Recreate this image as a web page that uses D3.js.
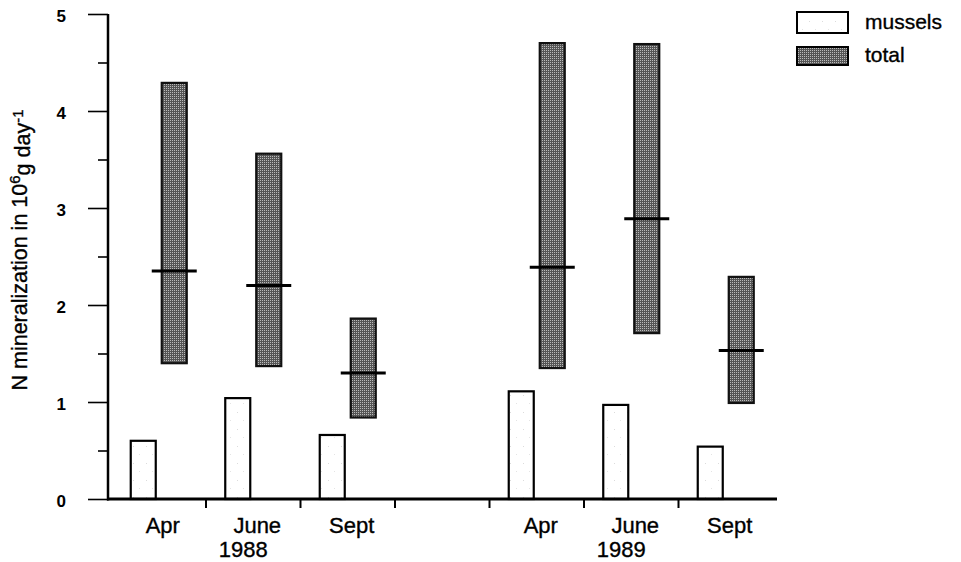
<!DOCTYPE html>
<html>
<head>
<meta charset="utf-8">
<script src="https://cdn.jsdelivr.net/npm/d3@7/dist/d3.min.js"></script>
<style>
  html, body { margin: 0; padding: 0; background: #fff; }
  svg { display: block; font-family: "Liberation Sans", Arial, Helvetica, sans-serif; }
  .lbl { stroke: #000; stroke-width: 0.35px; }
</style>
</head>
<body>
<svg id="chart" width="961" height="562"></svg>
<script>
// Sampling campaigns: three months in each of two years
const months = ["Apr", "June", "Sept"];
const years = ["1988", "1989"];

// N mineralization, 10^6 g per day
const mussels   = [0.60, 1.04, 0.66, 1.11, 0.97, 0.54];
const totalLow  = [1.40, 1.37, 0.84, 1.35, 1.71, 0.99];
const totalHigh = [4.29, 3.56, 1.86, 4.70, 4.69, 2.29];
const totalMid  = [2.35, 2.20, 1.30, 2.39, 2.89, 1.53];

const yTicks = [0, 1, 2, 3, 4, 5];
const yMinorTicks = [0.5, 1.5, 2.5, 3.5, 4.5];

// Slots along the x axis: one empty slot separates the two years
const slots = [];
years.forEach((yr, yi) => {
  months.forEach(m => slots.push(yr + " " + m));
  if (yi < years.length - 1) slots.push("gap");
});
const records = [];
years.forEach((yr, yi) => months.forEach((m, mi) => {
  const i = yi * months.length + mi;
  records.push({ key: yr + " " + m, month: m, year: yr,
    mussels: mussels[i], low: totalLow[i], high: totalHigh[i], mid: totalMid[i] });
}));

const svg = d3.select("#chart");
const x = d3.scaleBand().domain(slots).range([111.5, 773]).padding(0);
const y = d3.scaleLinear().domain([0, 5]).range([499, 14]);
const axisX = 108;

// Fill patterns: halftone grey for the total, sparse stipple for mussels
const defs = svg.append("defs");
const pt = defs.append("pattern").attr("id", "totalFill")
  .attr("patternUnits", "userSpaceOnUse").attr("width", 2).attr("height", 2);
pt.append("rect").attr("width", 2).attr("height", 2).attr("fill", "#555");
pt.append("rect").attr("width", 1).attr("height", 1).attr("fill", "#bbb");

const pm = defs.append("pattern").attr("id", "musselFill")
  .attr("patternUnits", "userSpaceOnUse").attr("width", 13).attr("height", 17);
pm.append("rect").attr("width", 13).attr("height", 17).attr("fill", "#fff");
pm.append("rect").attr("x", 3).attr("y", 4).attr("width", 1).attr("height", 1).attr("fill", "#dcdcdc");
pm.append("rect").attr("x", 9).attr("y", 12).attr("width", 1).attr("height", 1).attr("fill", "#e4e4e4");

const barW = 25, gapHalf = 3;

// Mussel bars
svg.append("g").selectAll("rect").data(records).join("rect")
  .attr("x", d => x(d.key) + x.bandwidth() / 2 - gapHalf - barW)
  .attr("y", d => y(d.mussels))
  .attr("width", barW)
  .attr("height", d => y(0) - y(d.mussels))
  .attr("fill", "url(#musselFill)")
  .attr("stroke", "#000").attr("stroke-width", 2.2);

// Total range bars
svg.append("g").selectAll("rect").data(records).join("rect")
  .attr("x", d => x(d.key) + x.bandwidth() / 2 + gapHalf)
  .attr("y", d => y(d.high))
  .attr("width", barW)
  .attr("height", d => y(d.low) - y(d.high))
  .attr("fill", "url(#totalFill)")
  .attr("stroke", "#111").attr("stroke-width", 2.2);

// Mid-value markers across each total bar
svg.append("g").selectAll("line").data(records).join("line")
  .attr("x1", d => x(d.key) + x.bandwidth() / 2 + gapHalf - 10)
  .attr("x2", d => x(d.key) + x.bandwidth() / 2 + gapHalf + barW + 10)
  .attr("y1", d => y(d.mid)).attr("y2", d => y(d.mid))
  .attr("stroke", "#000").attr("stroke-width", 3);

// Y axis
const yAxis = d3.axisLeft(y).tickValues(yTicks).tickSize(20).tickFormat(d3.format("d"));
const gy = svg.append("g").attr("transform", `translate(${axisX},0)`).call(yAxis);
gy.attr("font-size", null).attr("font-family", null);
gy.select(".domain").remove();
gy.selectAll(".tick line").attr("stroke", "#000").attr("stroke-width", 1.6);
gy.selectAll(".tick text")
  .attr("x", -42).attr("dy", "0.42em")
  .style("font-size", "17px").style("font-weight", "bold").attr("fill", "#000");
const gyMinor = d3.axisLeft(y).tickValues(yMinorTicks).tickSize(10).tickFormat("");
const gm = svg.append("g").attr("transform", `translate(${axisX},0)`).call(gyMinor);
gm.select(".domain").remove();
gm.selectAll(".tick line").attr("stroke", "#000").attr("stroke-width", 1.6);
svg.append("line")
  .attr("x1", axisX).attr("x2", axisX).attr("y1", y(5)).attr("y2", y(0) + 1.5)
  .attr("stroke", "#000").attr("stroke-width", 2.5);

// X axis baseline with ticks between slots
svg.append("line")
  .attr("x1", axisX - 1).attr("x2", 777).attr("y1", y(0)).attr("y2", y(0))
  .attr("stroke", "#000").attr("stroke-width", 3);
const boundaries = slots.slice(1).map(s => x(s));
svg.append("g").selectAll("line").data(boundaries).join("line")
  .attr("x1", d => d).attr("x2", d => d)
  .attr("y1", y(0)).attr("y2", y(0) + 9)
  .attr("stroke", "#000").attr("stroke-width", 2);

// Month labels and year labels
svg.append("g").selectAll("text").data(records).join("text")
  .attr("class", "lbl")
  .attr("x", d => x(d.key) + x.bandwidth() / 2 + 4)
  .attr("y", 533)
  .attr("text-anchor", "middle").attr("font-size", 22).attr("fill", "#000")
  .text(d => d.month);
svg.append("g").selectAll("text").data(years).join("text")
  .attr("class", "lbl")
  .attr("x", yr => x(yr + " June") + x.bandwidth() / 2 - 10)
  .attr("y", 557)
  .attr("text-anchor", "middle").attr("font-size", 22).attr("fill", "#000")
  .text(yr => yr);

// Y axis title
const title = svg.append("text")
  .attr("class", "lbl")
  .attr("transform", "translate(27,250) rotate(-90)")
  .attr("text-anchor", "middle").attr("font-size", 21.5).attr("fill", "#000");
title.append("tspan").text("N mineralization in 10");
title.append("tspan").attr("dy", "-0.45em").attr("font-size", 15).text("6");
title.append("tspan").attr("dy", "0.45em").text("g day");
title.append("tspan").attr("dy", "-0.45em").attr("font-size", 15).text("-1");

// Legend
const legend = [
  { label: "mussels", fill: "url(#musselFill)", y: 12, h: 21 },
  { label: "total", fill: "url(#totalFill)", y: 47, h: 18 }
];
const lg = svg.append("g");
lg.selectAll("rect").data(legend).join("rect")
  .attr("x", 797).attr("y", d => d.y).attr("width", 51).attr("height", d => d.h)
  .attr("fill", d => d.fill).attr("stroke", "#000").attr("stroke-width", 2);
lg.selectAll("text").data(legend).join("text")
  .attr("class", "lbl")
  .attr("x", 865).attr("y", d => d.y + d.h / 2 + 6)
  .attr("font-size", 21).attr("fill", "#000")
  .text(d => d.label);
</script>
</body>
</html>
